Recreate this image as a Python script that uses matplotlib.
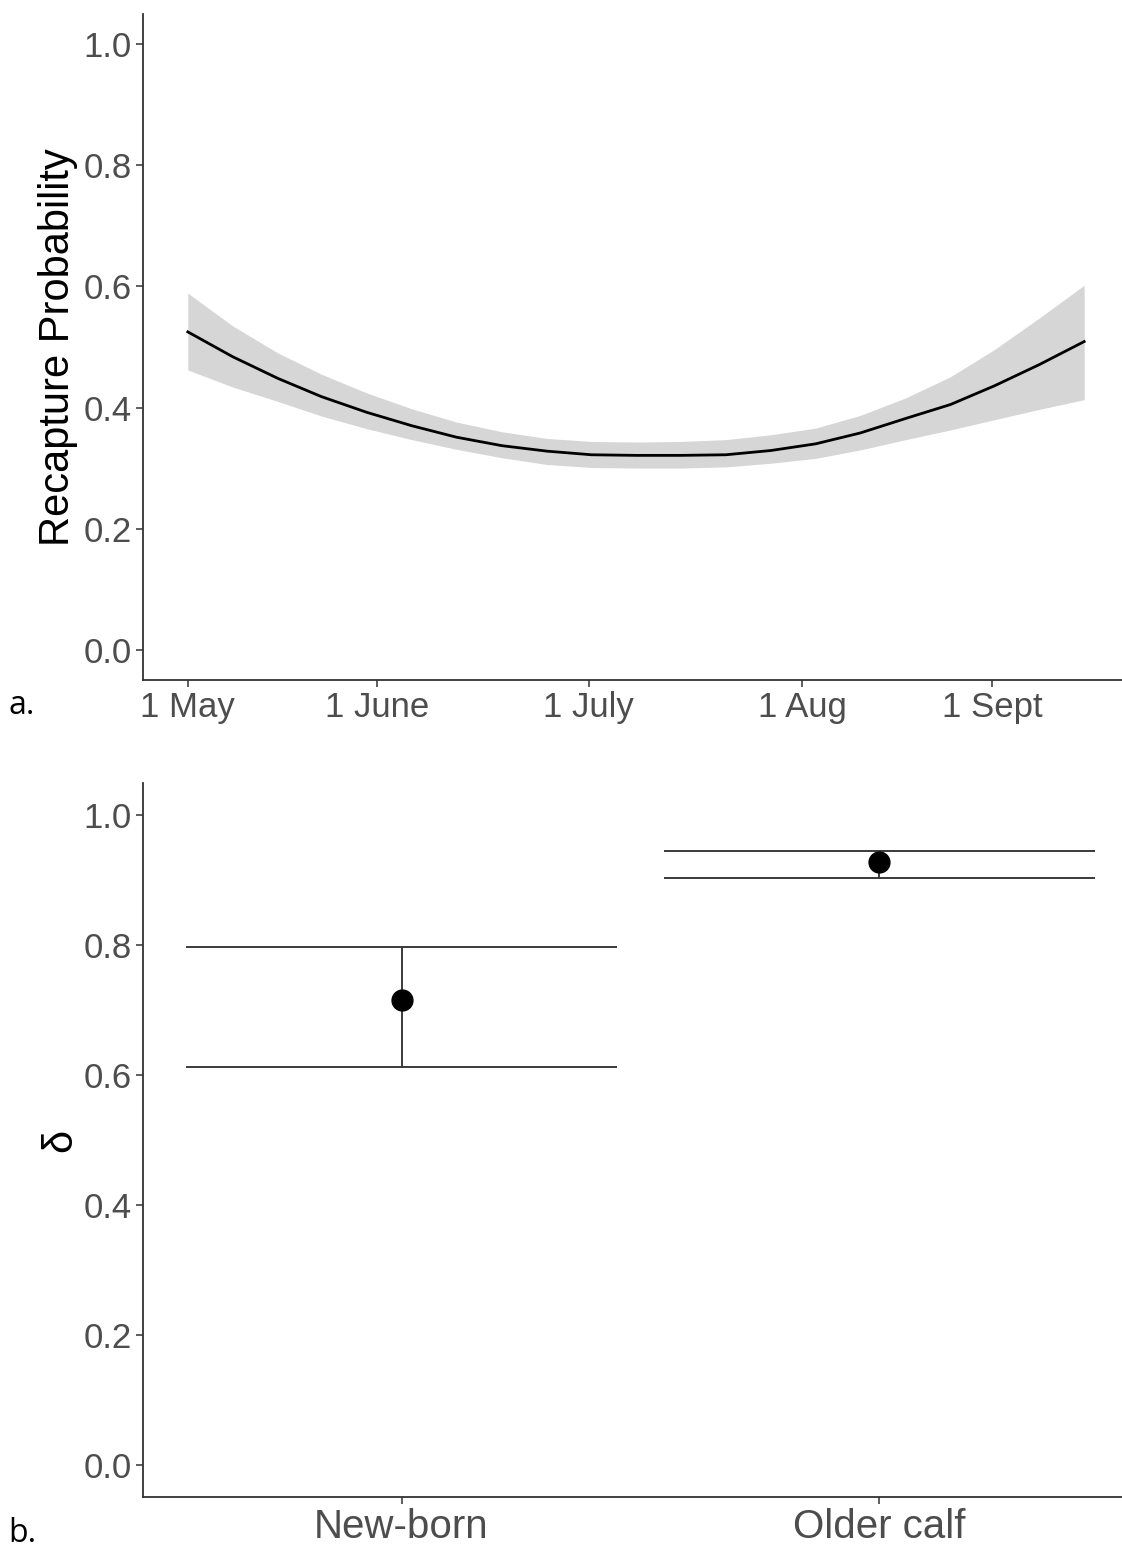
import matplotlib
matplotlib.use("Agg")
import matplotlib.pyplot as plt
import numpy as np

# figure size in inches at dpi 100
W = 11.22
H = 15.51

plt.rcParams['font.family'] = ['Liberation Sans', 'DejaVu Sans']

# panel a: recapture probability through the season (days since 1 May)
day = [0.0, 6.4, 12.9, 19.1, 25.6, 32.0, 38.4, 44.9, 51.3, 57.7, 64.1,
       70.4, 76.9, 83.3, 89.7, 96.1, 102.6, 109.0, 115.3, 121.7, 128.1]
p_mean = [0.525, 0.484, 0.448, 0.418, 0.392, 0.370, 0.351, 0.337, 0.328, 0.322, 0.321,
          0.321, 0.322, 0.329, 0.340, 0.358, 0.382, 0.405, 0.436, 0.471, 0.509]
p_lower = [0.462, 0.434, 0.410, 0.386, 0.365, 0.347, 0.331, 0.317, 0.306, 0.301, 0.300,
           0.300, 0.302, 0.308, 0.316, 0.330, 0.347, 0.363, 0.380, 0.397, 0.413]
p_upper = [0.589, 0.535, 0.490, 0.455, 0.424, 0.398, 0.376, 0.360, 0.349, 0.344, 0.343,
           0.344, 0.347, 0.355, 0.366, 0.387, 0.416, 0.451, 0.496, 0.548, 0.602]
month_pos    = [0, 27.0, 57.3, 87.8, 114.9]
month_labels = ['1 May', '1 June', '1 July', '1 Aug', '1 Sept']

# panel b: delta by calf class
classes = ['New-born', 'Older calf']
d_mean  = [0.715, 0.928]
d_lower = [0.612, 0.903]
d_upper = [0.797, 0.945]

yticks    = [0.0, 0.2, 0.4, 0.6, 0.8, 1.0]
tick_col  = '#4D4D4D'
spine_col = '#333333'

fig = plt.figure(figsize=(W, H), dpi=100)

def style_axis(ax):
    for s in ['top', 'right']:
        ax.spines[s].set_visible(False)
    for s in ['left', 'bottom']:
        ax.spines[s].set_color(spine_col)
        ax.spines[s].set_linewidth(1.3)
    ax.tick_params(axis='both', colors=spine_col, length=5, width=1.1,
                   labelcolor=tick_col, labelsize=25, pad=3)
    ax.set_yticks(yticks)
    ax.set_yticklabels(['%.1f' % v for v in yticks])
    ax.set_ylim(-0.05, 1.05)

#------------------------------------------------------------------#
#   panel a                                                        #
#------------------------------------------------------------------#
ax0 = fig.add_axes([143/1122, 1-680/1551, (1129-143)/1122, (680-14)/1551])
ax0.fill_between(day, p_lower, p_upper, color='#D6D6D6', linewidth=0)
ax0.plot(day, p_mean, color='black', linewidth=2)
style_axis(ax0)
ax0.set_xlim(-0.05*128.1, 128.1*1.05)
ax0.set_xticks(month_pos)
ax0.set_xticklabels(month_labels)
ax0.set_ylabel('Recapture Probability', fontsize=30, color='black')
ax0.yaxis.set_label_coords(-0.066, 0.5)

#------------------------------------------------------------------#
#   panel b                                                        #
#------------------------------------------------------------------#
ax1 = fig.add_axes([143/1122, 1-1497/1551, (1138-143)/1122, (1497-783)/1551])
xpos = np.arange(1, len(classes)+1)
for ii in range(len(classes)):
    ax1.hlines([d_lower[ii], d_upper[ii]], xpos[ii]-0.45, xpos[ii]+0.45,
               color='#3A3A3A', linewidth=1.4)
    ax1.vlines(xpos[ii], d_lower[ii], d_upper[ii], color='#3A3A3A', linewidth=1.4)
ax1.plot(xpos, d_mean, 'o', color='black', markersize=15)
style_axis(ax1)
ax1.set_xlim(0.459, 2.541)
ax1.set_xticks(xpos)
ax1.set_xticklabels(classes, fontsize=29)
ax1.set_ylabel('δ', fontsize=30, color='black')
ax1.yaxis.set_label_coords(-0.063, 0.5)

# panel letters
fig.text(8/1122, 1-706/1551, 'a.', fontsize=23, va='center', ha='left',
         family=['Open Sans', 'DejaVu Sans'])
fig.text(8/1122, 1-1533/1551, 'b.', fontsize=23, va='center', ha='left',
         family=['Open Sans', 'DejaVu Sans'])

fig.savefig('out.png', dpi=100)
